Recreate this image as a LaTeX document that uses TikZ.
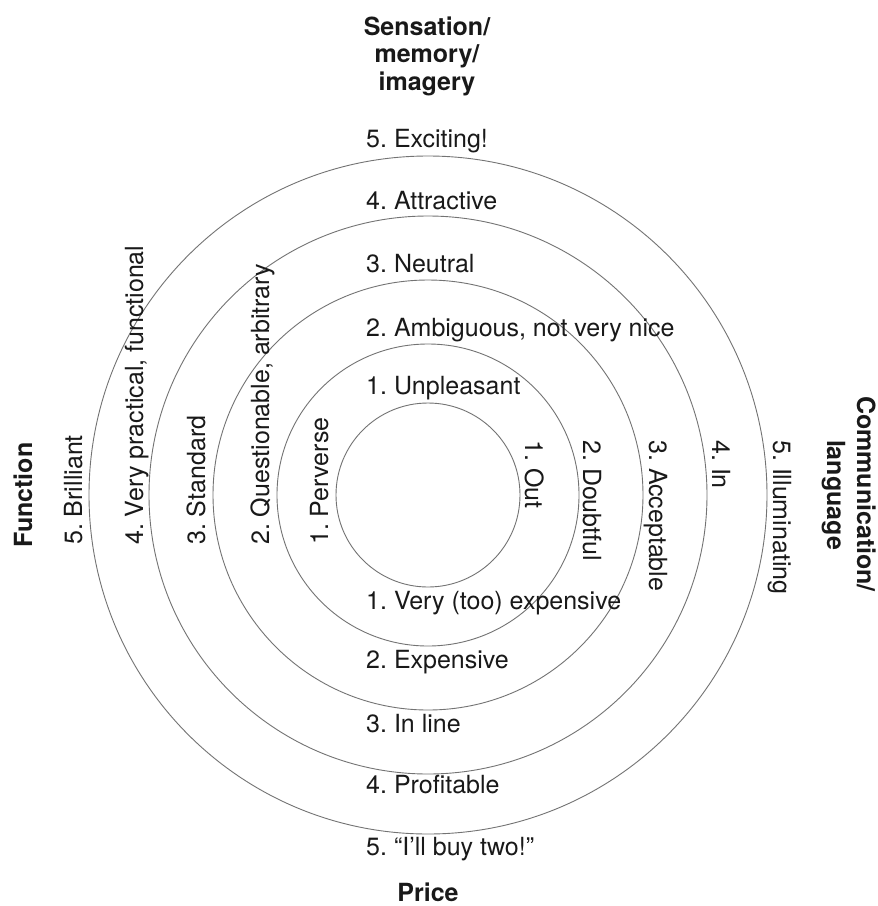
\documentclass[tikz,border=0pt]{standalone}
\usepackage{fontspec}
\setmainfont{TeX Gyre Heros}
\frenchspacing
\begin{document}
\begin{tikzpicture}[x=1pt,y=-1pt,
  ring/.style={draw=black!55, line width=0.9pt},
  lab/.style={inner sep=0pt, font=\fontsize{25}{29}\selectfont\frenchspacing, text=black!90},
  axis/.style={inner sep=0pt, font=\fontsize{25}{29}\selectfont\bfseries, text=black!90}]
\useasboundingbox (0,0) rectangle (878,906);
\fill[white] (0,0) rectangle (878,906);
\coordinate (c) at (428,495);
\foreach \r in {92,151,215,279,339} \draw[ring] (c) circle[radius=\r];
% top axis
\node[axis, anchor=base] (s1) at (427,35) {Sensation/};
\node[axis, anchor=base] (s2) at (427,62) {memory/};
\node[axis, anchor=base] (s3) at (427,90) {imagery};
% sensation levels
\node[lab, anchor=base west] (t5) at (366,147) {5. Exciting!};
\node[lab, anchor=base west] (t4) at (366,209) {4. Attractive};
\node[lab, anchor=base west] (t3) at (366,272) {3. Neutral};
\node[lab, anchor=base west] (t2) at (366,336) {2. Ambiguous, not very nice};
\node[lab, anchor=base west] (t1) at (366,394) {1. Unpleasant};
% price levels
\node[lab, anchor=base west] (b1) at (366,609) {1. Very (too) expensive};
\node[lab, anchor=base west] (b2) at (366,668) {2. Expensive};
\node[lab, anchor=base west] (b3) at (366,732) {3. In line};
\node[lab, anchor=base west] (b4) at (366,793) {4. Profitable};
\node[lab, anchor=base west] (b5) at (366,855) {5. “I’ll buy two!”};
\node[axis, anchor=base] (price) at (428,901) {Price};
% function levels
\node[axis, anchor=base, rotate=90] (func) at (32,495) {Function};
\node[lab, anchor=base west, rotate=90] (l5) at (82,545) {5. Brilliant};
\node[lab, anchor=base west, rotate=90] (l4) at (143,545) {4. Very practical, functional};
\node[lab, anchor=base west, rotate=90] (l3) at (205,545) {3. Standard};
\node[lab, anchor=base west, rotate=90] (l2) at (269,545) {2. Questionable, arbitrary};
\node[lab, anchor=base west, rotate=90] (l1) at (328,545) {1. Perverse};
% communication levels
\node[lab, anchor=base west, rotate=-90] (r1) at (525,440) {1. Out};
\node[lab, anchor=base west, rotate=-90] (r2) at (583,440) {2. Doubtful};
\node[lab, anchor=base west, rotate=-90] (r3) at (649,440) {3. Acceptable};
\node[lab, anchor=base west, rotate=-90] (r4) at (712,440) {4. In};
\node[lab, anchor=base west, rotate=-90] (r5) at (773,440) {5. Illuminating};
\node[axis, anchor=base, rotate=-90] (comm1) at (857,494) {Communication/};
\node[axis, anchor=base, rotate=-90] (comm2) at (827,495) {language};
\end{tikzpicture}
\end{document}
